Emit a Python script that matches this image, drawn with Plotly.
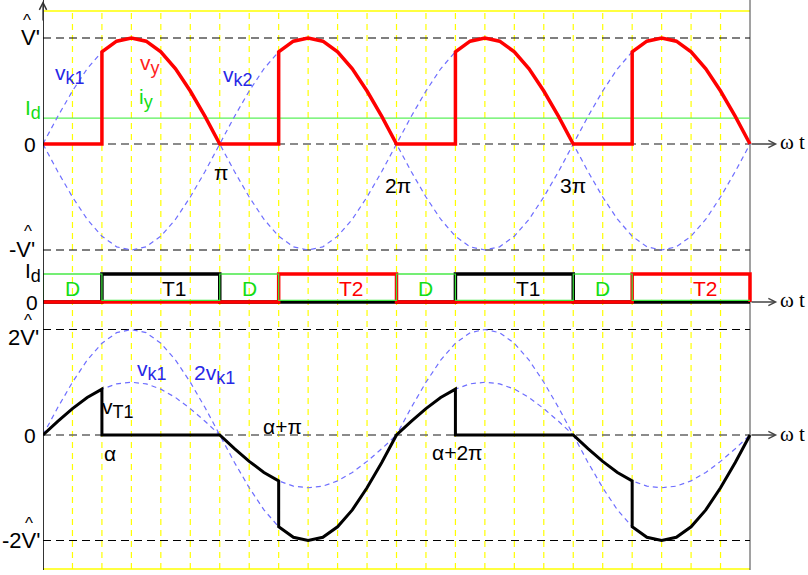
import math
import plotly.graph_objects as go

# ---------------- data ----------------
angle_deg = list(range(0, 721, 15))          # sample angles, omega t in degrees
vk1 = [0, 0.26, 0.5, 0.71, 0.87, 0.97, 1.0, 0.97, 0.87, 0.71, 0.5, 0.26,
       0, -0.26, -0.5, -0.71, -0.87, -0.97, -1.0, -0.97, -0.87, -0.71, -0.5, -0.26,
       0, 0.26, 0.5, 0.71, 0.87, 0.97, 1.0, 0.97, 0.87, 0.71, 0.5, 0.26,
       0, -0.26, -0.5, -0.71, -0.87, -0.97, -1.0, -0.97, -0.87, -0.71, -0.5, -0.26, 0]
alpha_deg = 60                               # firing angle
id_top = 0.245                               # I_d level in the upper panel (per V')
t1_on = [[60, 180], [420, 540]]              # T1 conducting
t2_on = [[240, 360], [600, 720]]             # T2 conducting
d_on = [[0, 60], [180, 240], [360, 420], [540, 600]]  # freewheeling diode
mid_labels = [("D", 30, "d"), ("T1", 120, "t1"), ("D", 210, "d"), ("T2", 300, "t2"),
              ("D", 390, "d"), ("T1", 480, "t1"), ("D", 570, "d"), ("T2", 660, "t2")]

# ---------------- derived series ----------------
rad = lambda d: d * math.pi / 180.0
xs = [rad(d) for d in angle_deg]
vk2 = [-v for v in vk1]
vk1x2 = [2 * v for v in vk1]

vy_x, vy_y = [], []
for d, v in zip(angle_deg, vk1):
    ph = d % 180
    if ph < alpha_deg:
        vy_x.append(rad(d)); vy_y.append(0)
    elif ph == alpha_deg:
        vy_x += [rad(d), rad(d)]; vy_y += [0, abs(v)]
    else:
        vy_x.append(rad(d)); vy_y.append(abs(v))

vt_x, vt_y = [], []
for d, v in zip(angle_deg, vk1):
    ph = d % 360
    if ph < alpha_deg:
        vt_x.append(rad(d)); vt_y.append(v)
    elif ph == alpha_deg:
        vt_x += [rad(d), rad(d)]; vt_y += [v, 0]
    elif ph <= 180:
        vt_x.append(rad(d)); vt_y.append(0)
    elif ph < 180 + alpha_deg:
        vt_x.append(rad(d)); vt_y.append(v)
    elif ph == 180 + alpha_deg:
        vt_x += [rad(d), rad(d)]; vt_y += [v, 2 * v]
    else:
        vt_x.append(rad(d)); vt_y.append(2 * v)


def step_path(intervals):
    px, py = [0.0], [0.0]
    for a, b in intervals:
        px += [rad(a), rad(a), rad(b), rad(b)]
        py += [0, 1, 1, 0]
    px.append(rad(720)); py.append(0)
    return px, py


FOURPI = rad(720)

# ---------------- geometry ----------------
W, H = 808, 575
ML, MR, MT, MB = 43, 0, 0, 5
PW, PH = W - ML - MR, H - MT - MB
XSCALE = 707 / FOURPI
XMAX = PW / XSCALE


def P(px, py):
    return (px - ML) / PW, (PH - (py - MT)) / PH


fig = go.Figure()

BLUE_DASH = "rgb(110,110,255)"
GREEN_LINE = "rgb(90,240,90)"
GREEN_TXT = "rgb(20,220,20)"
BLUE_TXT = "rgb(40,40,230)"

# upper panel
fig.add_trace(go.Scatter(x=[0, FOURPI], y=[id_top, id_top], mode="lines",
                         line=dict(color=GREEN_LINE, width=1.3), yaxis="y"))
fig.add_trace(go.Scatter(x=xs, y=vk1, mode="lines",
                         line=dict(color=BLUE_DASH, width=1.2, dash="5px,4px"), yaxis="y"))
fig.add_trace(go.Scatter(x=xs, y=vk2, mode="lines",
                         line=dict(color=BLUE_DASH, width=1.2, dash="5px,4px"), yaxis="y"))
fig.add_trace(go.Scatter(x=vy_x, y=vy_y, mode="lines",
                         line=dict(color="#ff0000", width=3.5), yaxis="y"))

# middle panel
fig.add_trace(go.Scatter(x=[0, FOURPI], y=[1, 1], mode="lines",
                         line=dict(color=GREEN_LINE, width=1.2), yaxis="y2"))
bx, by = step_path(t1_on)
fig.add_trace(go.Scatter(x=bx, y=by, mode="lines", line=dict(color="black", width=3.5), yaxis="y2"))
rx, ry = step_path(t2_on)
fig.add_trace(go.Scatter(x=rx, y=ry, mode="lines", line=dict(color="#ff0000", width=3.5), yaxis="y2"))
gx, gy = step_path(d_on)
fig.add_trace(go.Scatter(x=gx, y=[v * 0.94 + 0.06 for v in gy], mode="lines",
                         line=dict(color="rgb(60,230,60)", width=1.2), yaxis="y2"))

# lower panel
fig.add_trace(go.Scatter(x=xs, y=vk1, mode="lines",
                         line=dict(color=BLUE_DASH, width=1.2, dash="5px,4px"), yaxis="y3"))
fig.add_trace(go.Scatter(x=xs, y=vk1x2, mode="lines",
                         line=dict(color=BLUE_DASH, width=1.2, dash="5px,4px"), yaxis="y3"))
fig.add_trace(go.Scatter(x=vt_x, y=vt_y, mode="lines",
                         line=dict(color="black", width=3), yaxis="y3"))

# ---------------- shapes ----------------
shapes = []
ytop_paper = P(0, 11)[1]
ybot_paper = P(0, 569)[1]
for k in range(1, 24):
    shapes.append(dict(type="line", xref="x", yref="paper", x0=k * math.pi / 6, x1=k * math.pi / 6,
                       y0=ybot_paper, y1=ytop_paper, layer="below",
                       line=dict(color="rgb(255,255,0)", width=1.2, dash="6px,5px")))
for yp in (ytop_paper, ybot_paper):
    shapes.append(dict(type="line", xref="x", yref="paper", x0=0, x1=FOURPI, y0=yp, y1=yp,
                       layer="below", line=dict(color="rgb(255,255,0)", width=1.5)))
for yref, yv in (("y", 1), ("y", -1), ("y3", 2), ("y3", -2)):
    shapes.append(dict(type="line", xref="x", yref=yref, x0=0, x1=FOURPI, y0=yv, y1=yv,
                       layer="below", line=dict(color="black", width=1.2, dash="8px,5px")))
for yref in ("y", "y3"):
    shapes.append(dict(type="line", xref="x", yref=yref, x0=0, x1=FOURPI, y0=0, y1=0,
                       layer="below", line=dict(color="#666666", width=1.6, dash="8px,5px")))
shapes.append(dict(type="line", xref="x", yref="paper", x0=0, x1=0, y0=0, y1=1,
                   line=dict(color="black", width=1.6)))
shapes.append(dict(type="line", xref="x", yref="paper", x0=FOURPI, x1=FOURPI, y0=0, y1=ytop_paper + 0.02,
                   layer="below", line=dict(color="#444444", width=1)))

# ---------------- annotations ----------------
ann = []
FONT = "Liberation Sans, Arial, sans-serif"


def sub(base, s):
    return base + "<sub><span style='font-size:18px'>" + s + "</span></sub>"


def txt(text, px, py, color="black", size=21, family=FONT, xanchor="center"):
    x, y = P(px, py)
    ann.append(dict(text=text, x=x, y=y, xref="paper", yref="paper", showarrow=False,
                    xanchor=xanchor, yanchor="middle", font=dict(color=color, size=size, family=family)))


# left-side labels
txt("V'", 30, 38, size=22)
txt("^", 27, 20, size=17)
txt("0", 30, 144)
txt(sub("I", "d"), 33, 109, color=GREEN_TXT)
txt("-V'", 22, 249, size=22)
txt("^", 28, 231, size=17)
txt(sub("I", "d"), 33, 272)
txt("0", 32, 302)
txt("2V'", 23, 337, size=22)
txt("^", 28, 320, size=17)
txt("0", 30, 435)
txt("-2V'", 21, 540, size=22)
txt("^", 29, 523, size=17)

# upper panel labels
txt(sub("v", "k1"), 70, 75, color=BLUE_TXT)
txt(sub("v", "y"), 150, 64, color="#ff2020")
txt(sub("i", "y"), 146, 99, color=GREEN_TXT)
txt(sub("v", "k2"), 238, 77, color=BLUE_TXT)
txt("π", 221, 172)
txt("2π", 398, 185)
txt("3π", 573, 185)

# middle panel labels
for lab, deg, kind in mid_labels:
    col = {"d": GREEN_TXT, "t1": "black", "t2": "#ff0000"}[kind]
    px = ML + rad(deg) * XSCALE + (14 if kind != "d" else 0)
    txt(lab, px, 288, color=col)

# lower panel labels
txt(sub("v", "k1"), 152, 370, color=BLUE_TXT)
txt(sub("2v", "k1"), 214, 374, color=BLUE_TXT)
txt(sub("v", "T1"), 118, 408)
txt("α", 110, 453)
txt("α+π", 282, 426)
txt("α+2π", 458, 452)

# omega t arrows
for yref in ("y", "y2", "y3"):
    ann.append(dict(x=13.05, y=0, xref="x", yref=yref, ax=FOURPI, ay=0, axref="x", ayref=yref,
                    text="", showarrow=True, arrowhead=5, arrowsize=1.1, arrowwidth=1.3,
                    arrowcolor="#444444", standoff=0, startstandoff=0))
for py in (142, 300, 434):
    txt("ω t", 792, py, size=21, family="Liberation Serif, Times New Roman, serif")

# vertical axis arrow
ann.append(dict(x=0, y=1, xref="x", yref="paper", ax=0, ay=22, text="", showarrow=True,
                arrowhead=5, arrowsize=1.1, arrowwidth=1.3, arrowcolor="#333333"))

fig.update_layout(
    width=W, height=H, margin=dict(l=ML, r=MR, t=MT, b=MB, autoexpand=False),
    paper_bgcolor="white", plot_bgcolor="white", showlegend=False, hovermode=False,
    xaxis=dict(range=[0, XMAX], visible=False, anchor="y3", domain=[0, 1]),
    yaxis=dict(domain=[P(0, 258)[1], 1], range=[-(258 - 144) / 106, 144 / 106], visible=False),
    yaxis2=dict(domain=[P(0, 316)[1], P(0, 258)[1]], range=[-(316 - 302) / 28, (302 - 258) / 28],
                visible=False),
    yaxis3=dict(domain=[0, P(0, 316)[1]], range=[-(570 - 435) / 52.75, (435 - 316) / 52.75],
                visible=False),
    shapes=shapes, annotations=ann,
)

fig.write_html("out.html", config={"displayModeBar": False},
               post_script="document.body.style.margin='0';document.body.style.overflow='hidden';")
